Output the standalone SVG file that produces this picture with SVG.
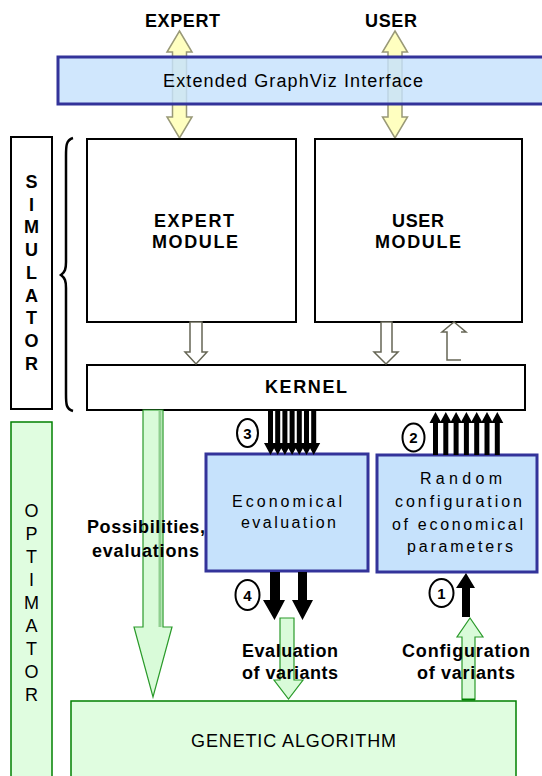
<svg xmlns="http://www.w3.org/2000/svg" width="542" height="776" viewBox="0 0 542 776">
<defs>
<style>
text{font-family:"Liberation Sans",Arial,sans-serif;fill:#000}
.b{font-weight:bold}
.blue{fill:#c6e2fc;stroke:#33339a;stroke-width:3}
.green{fill:#e0fde0;stroke:#008000;stroke-width:1.5}
.white{fill:#fff;stroke:#000;stroke-width:2}
.yarr{fill:#ffffc0;stroke:#999977;stroke-width:1.5}
.harr{fill:#fff;stroke:#666655;stroke-width:1.5}
.garr{fill:#d9fbd9;stroke:#2a9a2a;stroke-width:1.2}
.blk{fill:#000}
.circ{fill:#fff;stroke:#000;stroke-width:2}
.lt{font-size:18px;text-anchor:middle}
.rt{font-size:16px;text-anchor:middle}
.num{font-size:15px;font-weight:bold;text-anchor:middle}
</style>
</defs>

<g id="labels-top">
<text x="182.5" y="27" class="b lt" textLength="75">EXPERT</text>
<text x="391" y="27" class="b lt" textLength="52">USER</text>
</g>

<g id="connectors">
<path class="yarr" d="M179.5,31 L192,52 L186.5,52 L186.5,117 L192,117 L179.5,138 L167,117 L172.5,117 L172.5,52 L167,52 Z"/>
<path class="yarr" d="M395,31 L407.5,52 L402,52 L402,117 L407.5,117 L395,138 L382.5,117 L388,117 L388,52 L382.5,52 Z"/>
</g>

<g id="interface">
<rect class="blue" x="58" y="57" width="490" height="47" fill-opacity="0.82"/>
<text x="293" y="87" class="lt" textLength="260">Extended GraphViz Interface</text>
</g>

<g id="simulator">
<rect class="white" x="11" y="137" width="41" height="272"/>
<g class="b" style="font-size:18px;text-anchor:middle">
<text x="31.5" y="188">S</text>
<text x="31.5" y="211">I</text>
<text x="31.5" y="233">M</text>
<text x="31.5" y="256">U</text>
<text x="31.5" y="279">L</text>
<text x="31.5" y="302">A</text>
<text x="31.5" y="324">T</text>
<text x="31.5" y="347">O</text>
<text x="31.5" y="370">R</text>
</g>
</g>

<g id="brace">
<path d="M73,138 C66,140 66,146 66,156 L66,262 C66,269 65,272 61,275 C65,278 66,281 66,288 L66,394 C66,404 66,409 73,411" fill="none" stroke="#000" stroke-width="2.5"/>
</g>

<g id="expert-module">
<rect class="white" x="87" y="139" width="209" height="183"/>
<text x="194" y="227" class="b lt" textLength="80">EXPERT</text>
<text x="195" y="248" class="b lt" textLength="86">MODULE</text>
</g>

<g id="user-module">
<rect class="white" x="315" y="139" width="207" height="183"/>
<text x="418" y="227" class="b lt" textLength="52">USER</text>
<text x="418" y="248" class="b lt" textLength="86">MODULE</text>
</g>

<g id="kernel">
<rect class="white" x="87" y="365" width="438" height="45"/>
<text x="306" y="393" class="b lt" textLength="82">KERNEL</text>
</g>

<g id="optimator">
<rect class="green" x="11" y="422" width="41" height="360"/>
<g style="font-size:18px;text-anchor:middle">
<text x="31.5" y="517">O</text>
<text x="31.5" y="540">P</text>
<text x="31.5" y="563">T</text>
<text x="31.5" y="586">I</text>
<text x="31.5" y="609">M</text>
<text x="31.5" y="632">A</text>
<text x="31.5" y="655">T</text>
<text x="31.5" y="678">O</text>
<text x="31.5" y="701">R</text>
</g>
</g>

<g id="genetic-algorithm">
<rect class="green" x="71" y="701" width="445" height="80"/>
<text x="293.5" y="747" class="lt" textLength="205">GENETIC ALGORITHM</text>
</g>

<g id="economical-evaluation">
<rect class="blue" x="206" y="454" width="162" height="117"/>
<text x="287" y="507" class="rt" textLength="110">Economical</text>
<text x="288.5" y="528" class="rt" textLength="95">evaluation</text>
</g>

<g id="random-configuration">
<rect class="blue" x="377" y="455" width="160" height="117"/>
<text x="461" y="484" class="rt" textLength="82">Random</text>
<text x="458.5" y="507" class="rt" textLength="127">configuration</text>
<text x="457.5" y="530" class="rt" textLength="131">of economical</text>
<text x="460" y="552" class="rt" textLength="106">parameters</text>
</g>

<g id="flow-connectors">
<path class="harr" d="M190,322 L202,322 L202,352 L207,352 L196,364 L185,352 L190,352 Z"/>
<path class="harr" d="M381,322 L392,322 L392,352 L398,352 L386,364 L374,352 L381,352 Z"/>
<path class="harr" fill="none" d="M461,360 L447,360 L447,332 L442,332 L454,322 L466,332 L461,332"/>

<path class="garr" d="M143,410 L163,410 L163,627 L172,627 L153,697 L134,627 L143,627 Z"/>
<line x1="160" y1="411" x2="160" y2="627" stroke="#8fcf8f" stroke-width="3"/>

<g class="blk">
<rect x="268" y="410" width="5" height="35"/>
<rect x="275.2" y="410" width="5" height="35"/>
<rect x="282.4" y="410" width="5" height="35"/>
<rect x="289.6" y="410" width="5" height="35"/>
<rect x="296.8" y="410" width="5" height="35"/>
<rect x="304" y="410" width="5" height="35"/>
<rect x="311.2" y="410" width="5" height="35"/>
<path d="M264,443 L277,443 L270.5,455 Z M271.2,443 L284.2,443 L277.7,455 Z M278.4,443 L291.4,443 L284.9,455 Z M285.6,443 L298.6,443 L292.1,455 Z M292.8,443 L305.8,443 L299.3,455 Z M300,443 L313,443 L306.5,455 Z M307.2,443 L320.2,443 L313.7,455 Z"/>
</g>

<g class="blk">
<rect x="433" y="421" width="5" height="34"/>
<rect x="443.3" y="421" width="5" height="34"/>
<rect x="453.6" y="421" width="5" height="34"/>
<rect x="463.9" y="421" width="5" height="34"/>
<rect x="474.2" y="421" width="5" height="34"/>
<rect x="484.5" y="421" width="5" height="34"/>
<rect x="494.8" y="421" width="5" height="34"/>
<path d="M429.5,423 L441.5,423 L435.5,412 Z M439.8,423 L451.8,423 L445.8,412 Z M450.1,423 L462.1,423 L456.1,412 Z M460.4,423 L472.4,423 L466.4,412 Z M470.7,423 L482.7,423 L476.7,412 Z M481,423 L493,423 L487,412 Z M491.3,423 L503.3,423 L497.3,412 Z"/>
</g>

<path class="blk" d="M270,572 L280,572 L280,600 L285,600 L274.5,620 L263,600 L270,600 Z"/>
<path class="blk" d="M298,572 L307,572 L307,600 L313,600 L302.5,620 L292,600 L298,600 Z"/>

<path class="blk" d="M462,617 L470,617 L470,588 L475,588 L466,573 L456,588 L462,588 Z"/>

<path class="garr" d="M280,618 L294,618 L294,680 L303,680 L288.5,699 L274,680 L280,680 Z"/>

<path class="garr" d="M462,700 L462,637 L457,637 L470,618 L483,637 L475,637 L475,700 Z"/>
<line x1="462" y1="699.5" x2="475" y2="699.5" stroke="#008000" stroke-width="2"/>
</g>

<g id="step-markers">
<ellipse class="circ" cx="247.5" cy="433" rx="10.5" ry="14"/>
<text x="247.5" y="438.5" class="num">3</text>
<ellipse class="circ" cx="413.5" cy="437.5" rx="11" ry="14"/>
<text x="413.5" y="443" class="num">2</text>
<ellipse class="circ" cx="247.5" cy="595" rx="12" ry="15"/>
<text x="247.5" y="600.5" class="num">4</text>
<ellipse class="circ" cx="441.5" cy="593" rx="12" ry="14"/>
<text x="441.5" y="598.5" class="num">1</text>
</g>

<g id="flow-labels">
<text x="146" y="533" class="b lt" textLength="118">Possibilities,</text>
<text x="145.5" y="557" class="b lt" textLength="107">evaluations</text>
<text x="290" y="657" class="b lt" textLength="96">Evaluation</text>
<text x="290" y="679" class="b lt" textLength="96">of variants</text>
<text x="466" y="657" class="b lt" textLength="128">Configuration</text>
<text x="466" y="679" class="b lt" textLength="98">of variants</text>
</g>
</svg>
